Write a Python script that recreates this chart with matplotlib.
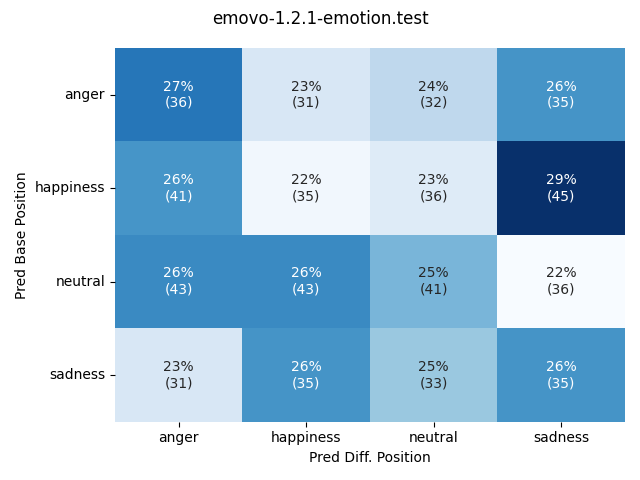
import numpy as np
import matplotlib
matplotlib.use("Agg")
import matplotlib.pyplot as plt
import seaborn as sns

labels = ["anger", "happiness", "neutral", "sadness"]
counts = np.array([
  [36, 31, 32, 35],
  [41, 35, 36, 45],
  [43, 43, 41, 36],
  [31, 35, 33, 35],
])

frac = counts / counts.sum(axis=1, keepdims=True)
annot = np.array([["%d%%\n(%d)" % (round(f*100), c) for f, c in zip(fr, cr)]
                  for fr, cr in zip(frac, counts)])

fig, ax = plt.subplots(figsize=(6.4, 4.8), dpi=100)
sns.heatmap(frac, annot=annot, fmt="", cmap="Blues", cbar=False,
            xticklabels=labels, yticklabels=labels, ax=ax)
ax.set_xlabel("Pred Diff. Position")
ax.set_ylabel("Pred Base Position")
plt.setp(ax.get_yticklabels(), rotation=0)
fig.suptitle("emovo-1.2.1-emotion.test")
fig.tight_layout()
fig.savefig("out.png")
